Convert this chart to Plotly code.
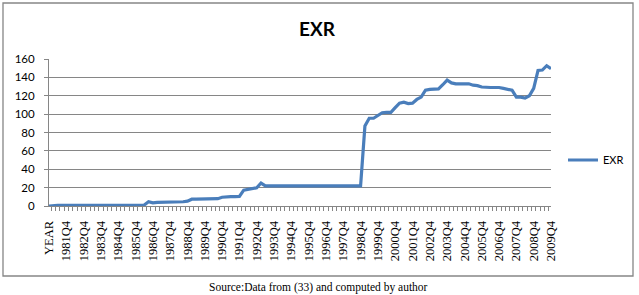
import plotly.graph_objects as go

# ---- data ----
years = list(range(1981, 2010))
categories = ["YEAR"] + [f"{y}Q{q}" for y in years for q in range(1, 5)]

exr_year = [0.0]
exr_1981_1985 = [0.61, 0.62, 0.63, 0.64,
                 0.66, 0.67, 0.68, 0.70,
                 0.72, 0.73, 0.75, 0.77,
                 0.78, 0.79, 0.80, 0.82,
                 0.85, 0.88, 0.92, 0.95]
exr_1986_1990 = [1.0, 1.1, 4.6, 3.4,
                 4.0, 4.0, 4.1, 4.2,
                 4.3, 4.4, 4.6, 5.3,
                 7.4, 7.5, 7.6, 7.6,
                 7.8, 7.9, 8.0, 9.5]
exr_1991_1995 = [10.3, 10.3, 10.3, 10.5,
                 17.3, 18.0, 19.0, 19.8,
                 25.0, 22.0, 21.9, 21.9,
                 21.9, 21.9, 21.9, 21.9,
                 21.9, 21.9, 21.9, 21.9]
exr_1996_2000 = [21.9, 21.9, 21.9, 21.9,
                 21.9, 21.9, 21.9, 21.9,
                 21.9, 21.9, 21.9, 21.9,
                 87.0, 95.5, 95.5, 99.0,
                 101.5, 102.0, 102.0, 107.0]
exr_2001_2005 = [112.0, 113.0, 111.5, 112.0,
                 116.0, 118.5, 126.0, 127.0,
                 127.0, 127.5, 132.0, 137.0,
                 134.0, 133.0, 133.0, 133.0,
                 133.0, 131.5, 131.0, 129.5]
exr_2006_2009 = [129.0, 129.0, 129.0, 129.0,
                 128.0, 127.0, 126.0, 118.5,
                 118.5, 117.5, 120.0, 128.0,
                 147.5, 148.0, 152.7, 149.4]
exr = exr_year + exr_1981_1985 + exr_1986_1990 + exr_1991_1995 + exr_1996_2000 + exr_2001_2005 + exr_2006_2009

tick_text = [c if (i % 4 == 0) else "" for i, c in enumerate(categories)]

title_text = "EXR"
series_name = "EXR"
source_text = "Source:Data from (33) and computed by author"

# ---- figure ----
W, H = 639, 295
L, R, T, B = 49, 88, 59, 89
pw = W - L - R
ph = H - T - B

def px_x(x):
    return (x - L) / pw

def px_y(y):
    return (H - B - y) / ph

grid = "#868686"

fig = go.Figure()
fig.add_trace(go.Scatter(
    x=categories, y=exr, mode="lines", name=series_name,
    line=dict(color="#4A7EBB", width=3.2),
))

fig.update_layout(
    width=W, height=H,
    margin=dict(l=L, r=R, t=T, b=B, autoexpand=False),
    paper_bgcolor="white", plot_bgcolor="white",
    title=dict(text=f"<b>{title_text}</b>", x=317 / W, xref="container", xanchor="center",
               y=1 - 29 / H, yref="container", yanchor="middle",
               font=dict(family="Lato", size=19, color="black")),
    showlegend=True,
    legend=dict(x=px_x(563), y=px_y(160), xanchor="left", yanchor="middle",
                font=dict(family="Lato", size=11, color="black"),
                bgcolor="rgba(0,0,0,0)", itemwidth=30),
    xaxis=dict(
        type="category", tickmode="array", tickvals=categories, ticktext=tick_text,
        tickson="boundaries", ticks="outside", ticklen=4, tickcolor=grid, tickwidth=1,
        tickangle=-90, showline=True, linecolor=grid, linewidth=1, showgrid=False,
        tickfont=dict(family="Liberation Serif", size=12.5, color="black"),
        ticklabelstandoff=9, automargin=False,
    ),
    yaxis=dict(
        range=[0, 160], dtick=20, tick0=0, showgrid=True, gridcolor=grid, gridwidth=1,
        showline=True, linecolor=grid, linewidth=1, zeroline=False,
        ticks="outside", ticklen=4, tickcolor=grid,
        tickfont=dict(family="Lato", size=11.5, color="black"),
        ticklabelstandoff=7, automargin=False,
    ),
    shapes=[dict(type="rect", xref="paper", yref="paper",
                 x0=px_x(3), x1=px_x(633), y0=px_y(276), y1=px_y(3),
                 line=dict(color=grid, width=1.3), fillcolor="rgba(0,0,0,0)", layer="below")],
    annotations=[dict(text=source_text, xref="paper", yref="paper",
                      x=px_x(318), y=px_y(287), xanchor="center", yanchor="middle",
                      showarrow=False,
                      font=dict(family="Liberation Serif", size=11.5, color="black"))],
)

fig.write_html("out.html", config={"displayModeBar": False},
               post_script="document.body.style.margin='0';")
